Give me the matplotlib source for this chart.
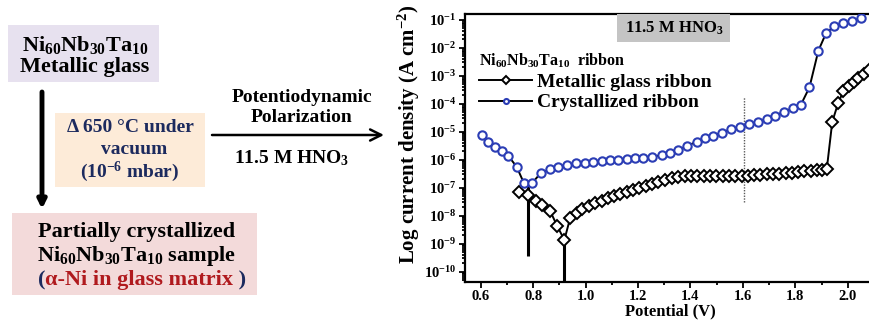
import numpy as np
import matplotlib
matplotlib.use('Agg')
import matplotlib.pyplot as plt
from matplotlib.patches import Rectangle
from matplotlib.ticker import LogLocator, MultipleLocator, NullFormatter
from matplotlib.offsetbox import TextArea, HPacker, AnnotationBbox

plt.rcParams['font.family'] = 'Liberation Serif'
plt.rcParams['font.weight'] = 'bold'
plt.rcParams['axes.labelweight'] = 'bold'
plt.rcParams['mathtext.fontset'] = 'custom'
plt.rcParams['mathtext.rm'] = 'Liberation Serif:bold'
plt.rcParams['mathtext.it'] = 'Liberation Serif:italic:bold'
plt.rcParams['mathtext.bf'] = 'Liberation Serif:bold'
plt.rcParams['mathtext.default'] = 'rm'

# crystallized ribbon: potential (V) and log10 current density (A cm^-2)
cryst_v = [0.604, 0.629, 0.655, 0.680, 0.705, 0.737, 0.765, 0.795, 0.829, 0.865,
           0.896, 0.928, 0.964, 0.998, 1.030, 1.062, 1.093, 1.125, 1.157, 1.189,
           1.220, 1.252, 1.291, 1.322, 1.354, 1.387, 1.424, 1.456, 1.487, 1.519,
           1.554, 1.589, 1.625, 1.659, 1.691, 1.723, 1.757, 1.790, 1.821, 1.854,
           1.888, 1.917, 1.948, 1.981, 2.016, 2.050]
cryst_logi = [-5.11, -5.35, -5.53, -5.67, -5.86, -6.25, -6.84, -6.84, -6.48, -6.34,
              -6.25, -6.18, -6.12, -6.10, -6.07, -6.04, -6.02, -6.00, -5.97, -5.95,
              -5.92, -5.89, -5.84, -5.75, -5.65, -5.51, -5.35, -5.23, -5.14, -5.03,
              -4.91, -4.82, -4.73, -4.64, -4.55, -4.43, -4.28, -4.16, -4.04, -3.41,
              -2.10, -1.48, -1.22, -1.12, -1.04, -0.94]

# metallic glass ribbon
glass_v = [0.746, 0.779, 0.810, 0.835, 0.864, 0.892, 0.919, 0.941, 0.966, 0.988,
           1.013, 1.036, 1.062, 1.085, 1.110, 1.131, 1.157, 1.182, 1.205, 1.230,
           1.252, 1.278, 1.303, 1.329, 1.354, 1.378, 1.402, 1.426, 1.450, 1.474,
           1.499, 1.523, 1.547, 1.571, 1.595, 1.619, 1.643, 1.667, 1.691, 1.715,
           1.739, 1.763, 1.787, 1.811, 1.835, 1.859, 1.883, 1.902, 1.920, 1.941,
           1.964, 1.983, 2.003, 2.022, 2.041, 2.062, 2.081]
glass_logi = [-7.14, -7.26, -7.46, -7.61, -7.82, -8.37, -8.87, -8.09, -7.91, -7.77,
              -7.65, -7.55, -7.46, -7.38, -7.29, -7.22, -7.15, -7.08, -7.01, -6.94,
              -6.86, -6.79, -6.72, -6.65, -6.60, -6.58, -6.57, -6.57, -6.58, -6.58,
              -6.58, -6.59, -6.58, -6.58, -6.58, -6.57, -6.56, -6.53, -6.51, -6.52,
              -6.51, -6.48, -6.46, -6.44, -6.42, -6.40, -6.38, -6.36, -6.34, -4.64,
              -3.96, -3.56, -3.36, -3.21, -3.08, -2.93, -2.79]

# corrosion potential spikes (V, log10 top, log10 bottom)
ecorr_v = [0.782, 0.919]
ecorr_top = [-6.84, -8.87]
ecorr_bottom = [-9.44, -11.0]

# dotted marker at 1.6 V
mark_v = 1.606
mark_range = [-7.50, -3.74]

# labelled decades on the current axis
decades = np.arange(-10, 0)

blue = '#2b3db5'
navy = '#1c2a5e'

fig = plt.figure(figsize=(8.69, 3.21), dpi=100)

# ---- flow diagram on the left, drawn in pixel units ----
flow = fig.add_axes([0, 0, 1, 1])
flow.set_xlim(0, 869)
flow.set_ylim(321, 0)
flow.axis('off')

flow.add_patch(Rectangle((8, 25), 151, 57, fc='#e7e1ef', ec='none'))
flow.text(85, 45, 'Ni$_{60}$Nb$_{30}$Ta$_{10}$', ha='center', va='center', fontsize=16)
flow.text(85, 67, 'Metallic glass', ha='center', va='center', fontsize=16)

flow.add_patch(Rectangle((55, 113), 150, 74, fc='#fdebd8', ec='none'))
flow.text(130, 128, 'Δ 650 °C under', ha='center', va='center', fontsize=14, color=navy)
flow.text(134, 150, 'vacuum', ha='center', va='center', fontsize=14, color=navy)
flow.text(130, 172, '(10$^{-6}$ mbar)', ha='center', va='center', fontsize=14, color=navy)

flow.add_patch(Rectangle((12, 213), 245, 82, fc='#f3dada', ec='none'))
flow.text(137, 232, 'Partially crystallized', ha='center', va='center', fontsize=16)
flow.text(137, 256, 'Ni$_{60}$Nb$_{30}$Ta$_{10}$ sample', ha='center', va='center', fontsize=16)
phase = HPacker(children=[
    TextArea('(', textprops=dict(color=navy, fontsize=16, fontweight='bold')),
    TextArea('α-Ni in glass matrix', textprops=dict(color='#b01a1e', fontsize=16, fontweight='bold')),
    TextArea(' )', textprops=dict(color=navy, fontsize=16, fontweight='bold')),
], pad=0, sep=0, align='baseline')
flow.add_artist(AnnotationBbox(phase, (142, 280), xycoords='data', frameon=False,
                               box_alignment=(0.5, 0.5)))

flow.annotate('', xy=(42, 209), xytext=(42, 92),
              arrowprops=dict(arrowstyle='-|>', lw=3.5, color='k', mutation_scale=12,
                              shrinkA=0, shrinkB=0))
flow.annotate('', xy=(384, 135), xytext=(212, 135),
              arrowprops=dict(arrowstyle='->', lw=1.8, color='k', mutation_scale=20,
                              shrinkA=0, shrinkB=0))
flow.text(302, 97, 'Potentiodynamic', ha='center', va='center', fontsize=14)
flow.text(302, 118, 'Polarization', ha='center', va='center', fontsize=14)
flow.text(292, 158, '11.5 M HNO$_3$', ha='center', va='center', fontsize=14)

# ---- polarization curves ----
ax = fig.add_axes([465 / 869, 39.3 / 321, 410 / 869, 267.4 / 321])

ax.vlines(ecorr_v, 10.0 ** np.array(ecorr_bottom), 10.0 ** np.array(ecorr_top),
          color='k', lw=2.2, zorder=2)
ax.vlines(mark_v, 10 ** mark_range[0], 10 ** mark_range[1], color='0.35',
          lw=1.0, linestyles=(0, (1, 1)), zorder=1)

glass_line, = ax.plot(glass_v, 10.0 ** np.array(glass_logi), color='k', lw=1.4,
                      marker='D', ms=6.3, mfc='white', mec='k', mew=1.4, zorder=3,
                      label='Metallic glass ribbon')
cryst_line, = ax.plot(cryst_v, 10.0 ** np.array(cryst_logi), color='k', lw=1.4,
                      marker='o', ms=6.0, mfc='white', mec=blue, mew=1.5, zorder=4,
                      label='Crystallized ribbon')

ax.set_yscale('log')
ax.set_xlim(0.540, 2.104)
ax.set_ylim(10 ** -10.36, 10 ** -0.80)

ax.xaxis.set_major_locator(MultipleLocator(0.2))
ax.xaxis.set_minor_locator(MultipleLocator(0.1))
ax.set_yticks(10.0 ** decades)
ax.yaxis.set_minor_locator(LogLocator(base=10, subs=np.arange(2, 10), numticks=20))
ax.yaxis.set_minor_formatter(NullFormatter())
ax.tick_params(which='both', direction='out', labelsize=10.5, width=1.3, pad=2)
ax.tick_params(which='major', length=4)
ax.tick_params(which='minor', length=2.2)
for side in ['left', 'bottom', 'top']:
    ax.spines[side].set_linewidth(1.6)
ax.spines['right'].set_visible(False)

ax.set_xlabel('Potential (V)', fontsize=12)
ax.xaxis.set_label_coords(0.5, -0.080)
ax.set_ylabel('Log current density (A cm$^{-2}$)', fontsize=15)
ax.yaxis.set_label_coords(-0.104, 0.55)

# solution label in a grey box over the top spine
ax.add_patch(Rectangle((0.371, 0.896), 0.275, 0.104, transform=ax.transAxes,
                       fc='#c4c4c4', ec='none', clip_on=False, zorder=6))
ax.text(0.51, 0.949, '11.5 M HNO$_3$', transform=ax.transAxes, ha='center',
        va='center', fontsize=12, zorder=7)

leg = ax.legend(handles=[glass_line, cryst_line], loc='upper left',
                bbox_to_anchor=(0.035, 0.862), frameon=False, fontsize=14,
                title='Ni$_{60}$Nb$_{30}$Ta$_{10}$  ribbon', title_fontsize=11.5,
                alignment='left', handlelength=2.7, handletextpad=0.25,
                labelspacing=0.17, borderpad=0, borderaxespad=0, markerscale=0.6)

fig.savefig('out.png', dpi=100)
